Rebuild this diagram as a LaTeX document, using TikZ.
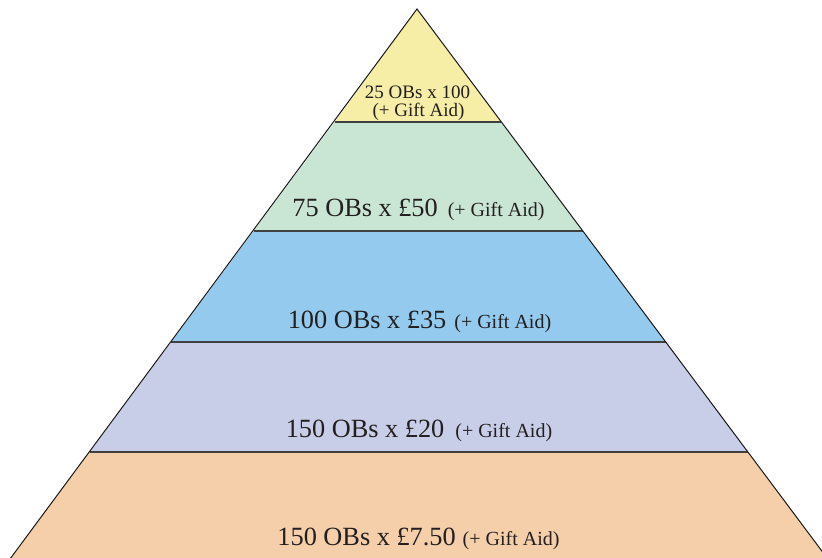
\documentclass[tikz,border=0pt]{standalone}
\usepackage{fontspec}
\setmainfont{Liberation Serif}
\definecolor{cyel}{HTML}{F6EEA6}
\definecolor{cgrn}{HTML}{C9E5D4}
\definecolor{cblu}{HTML}{93CAEE}
\definecolor{cpur}{HTML}{C9CEE8}
\definecolor{corg}{HTML}{F4CFAA}
\definecolor{ctxt}{HTML}{231F20}
\tikzset{
  big/.style={font=\fontsize{26.3}{30}\selectfont, text=ctxt, inner sep=0pt, anchor=base},
  small/.style={font=\fontsize{19}{22}\selectfont, text=ctxt, inner sep=0pt, anchor=base},
  divider/.style={draw=black!75, line width=1.2pt},
  edge/.style={draw=black!90, line width=1pt}
}
\newcommand{\sm}[1]{{\fontsize{20}{22}\selectfont #1}}
\begin{document}
\begin{tikzpicture}[x=1pt,y=-1pt]
\useasboundingbox (0,0) rectangle (822,557);
\begin{scope}
\clip (0,0) rectangle (822,557);
\coordinate (apex) at (417,9);
\coordinate (l1) at (334.8,122); \coordinate (r1) at (501.4,122);
\coordinate (l2) at (253.8,231); \coordinate (r2) at (582.8,231);
\coordinate (l3) at (171.3,342); \coordinate (r3) at (665.8,342);
\coordinate (l4) at (89.6,452);  \coordinate (r4) at (747.9,452);
\coordinate (l5) at (-8.5,584);  \coordinate (r5) at (846.5,584);
\fill[cyel] (apex) -- (l1) -- (r1) -- cycle;
\fill[cgrn] (l1) -- (l2) -- (r2) -- (r1) -- cycle;
\fill[cblu] (l2) -- (l3) -- (r3) -- (r2) -- cycle;
\fill[cpur] (l3) -- (l4) -- (r4) -- (r3) -- cycle;
\fill[corg] (l4) -- (l5) -- (r5) -- (r4) -- cycle;
\draw[divider] (l1) -- (r1);
\draw[divider] (l2) -- (r2);
\draw[divider] (l3) -- (r3);
\draw[divider] (l4) -- (r4);
\draw[edge, line join=miter] (l5) -- (apex) -- (r5);
\end{scope}
\node[small] (t1a) at (417.5,98) {25 OBs x 100};
\node[small] (t1b) at (418.5,116) {(+ Gift Aid)};
\node[big] (t2) at (418.5,216) {75 OBs x £50\hspace{10pt}\sm{(+ Gift Aid)}};
\node[big] (t3) at (419.5,328) {100 OBs x £35\hspace{8pt}\sm{(+ Gift Aid)}};
\node[big] (t4) at (419,437) {150 OBs x £20\hspace{11pt}\sm{(+ Gift Aid)}};
\node[big] (t5) at (418.5,545) {150 OBs x £7.50\hspace{7pt}\sm{(+ Gift Aid)}};
\end{tikzpicture}
\end{document}
